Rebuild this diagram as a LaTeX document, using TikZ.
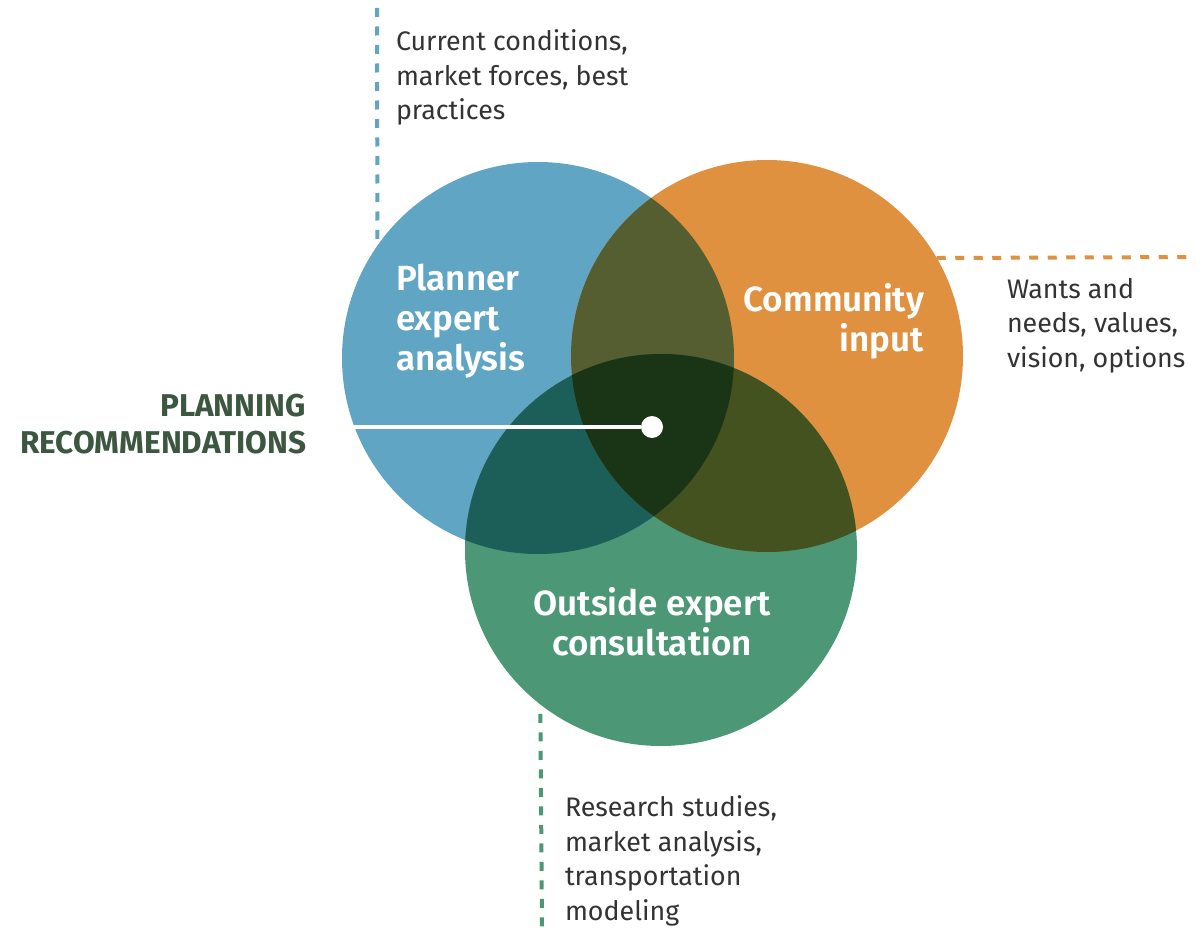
\documentclass[tikz,border=0pt]{standalone}
\usepackage{fontspec}
\setmainfont{Fira Sans}[BoldFont={Fira Sans SemiBold}]
\newfontface\heavyface{Fira Sans Bold}
\usepackage{tikz}

\definecolor{planblue}{HTML}{60A5C4}
\definecolor{commorange}{HTML}{E0913F}
\definecolor{outgreen}{HTML}{4C9776}
\definecolor{blueorange}{HTML}{555E30}
\definecolor{bluegreen}{HTML}{1C5E58}
\definecolor{orangegreen}{HTML}{43521E}
\definecolor{allthree}{HTML}{1A3516}
\definecolor{textgray}{HTML}{333333}
\definecolor{recgreen}{HTML}{3C573F}

\begin{document}
\begin{tikzpicture}[x=1pt, y=-1pt,
  every node/.style={inner sep=0pt, outer sep=0pt},
  venn/.style={circle, minimum size=392pt},
  guide/.style={line width=4pt, dash pattern=on 9pt off 9.5pt},
  sidetext/.style={align=left, anchor=base west, text=textgray, font=\fontsize{26.8}{34.5}\selectfont},
  mainlabel/.style={text=white, font=\bfseries\fontsize{35}{40}\selectfont}]

\useasboundingbox (0,0) rectangle (1203,931);

% the three circles
\node[venn, fill=planblue] (planner) at (538,358) {};
\node[venn, fill=commorange] (community) at (767,356) {};
\node[venn, fill=outgreen] (outside) at (661,550) {};

% overlaps
\begin{scope}
\clip (538,358) circle[radius=196pt];
\fill[blueorange] (767,356) circle[radius=196pt];
\fill[bluegreen] (661,550) circle[radius=196pt];
\end{scope}
\begin{scope}
\clip (767,356) circle[radius=196pt];
\fill[orangegreen] (661,550) circle[radius=196pt];
\clip (538,358) circle[radius=196pt];
\fill[allthree] (661,550) circle[radius=196pt];
\end{scope}

% circle labels (base = last line)
\node[mainlabel, align=left, anchor=base west] (plannerlabel) at (396,370) {Planner\\expert\\analysis};
\node[mainlabel, align=right, anchor=base east] (communitylabel) at (924,351) {Community\\input};
\node[mainlabel, align=center, anchor=base] (outsidelabel) at (652,655) {Outside expert\\consultation};

% dashed guides and notes
\coordinate (plannertop) at (377,8);
\coordinate (communityend) at (1194,257);
\coordinate (outsideend) at (542,931);
\draw[guide, planblue] (plannertop) -- (planner.145.2);
\draw[guide, commorange] (community.30.3) -- (communityend);
\draw[guide, outgreen, dash phase=9pt] (outside.232.6) -- (outsideend);

\node[sidetext] (plannernote) at (396,120) {Current conditions,\\market forces, best\\practices};
\node[sidetext] (communitynote) at (1007,367) {Wants and\\needs, values,\\vision, options};
\node[sidetext] (outsidenote) at (565,920) {Research studies,\\market analysis,\\transportation\\modeling};

% planning recommendations
\node[circle, fill=white, minimum size=22pt] (hub) at (652,427) {};
\draw[white, line width=3.5pt] (planner.200.6 |- hub) -- (hub);
\node[align=right, anchor=base east, text=recgreen, font=\heavyface\fontsize{31.5}{37}\selectfont] (reclabel) at (306,453) {PLANNING\\RECOMMENDATIONS};
\end{tikzpicture}
\end{document}
